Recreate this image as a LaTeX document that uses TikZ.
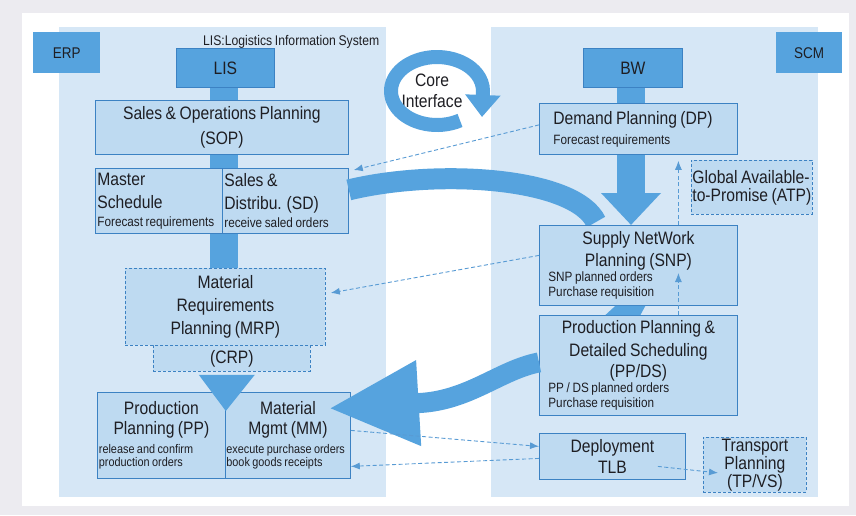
\documentclass[tikz,border=0pt]{standalone}
\usepackage{fontspec}
\setmainfont[FakeStretch=0.87, WordSpace=0.8]{Liberation Sans}
\usetikzlibrary{arrows.meta,calc}
\definecolor{framegray}{RGB}{236,235,240}
\definecolor{panelblue}{RGB}{214,231,246}
\definecolor{boxblue}{RGB}{190,218,241}
\definecolor{flowblue}{RGB}{86,163,222}
\definecolor{edgeblue}{RGB}{60,130,195}
\definecolor{linkblue}{RGB}{88,155,212}
\definecolor{inkgray}{RGB}{30,30,35}
\newcommand\bigtxt{\fontsize{18}{23}\selectfont}
\newcommand\smalltxt{\fontsize{13.5}{15}\selectfont}
\newcommand\pptxt{\fontsize{12.5}{12.5}\selectfont}

\begin{document}
\begin{tikzpicture}[x=1pt, y=-1pt, >=Stealth,
  box/.style={draw=edgeblue, fill=boxblue, line width=0.8pt, anchor=north west, inner sep=0pt, font=\bigtxt, text=inkgray},
  dbox/.style={box, dash pattern=on 3pt off 2pt},
  tag/.style={fill=flowblue, anchor=north west, inner sep=0pt, font=\fontsize{15.5}{18}\selectfont, text=inkgray},
  hdr/.style={tag, draw=edgeblue, line width=0.8pt, font=\bigtxt},
  side/.style={fill=panelblue, anchor=north west, inner sep=0pt},
  bar/.style={draw=flowblue, line width=28pt},
  link/.style={draw=linkblue, line width=0.9pt, dash pattern=on 4pt off 2.5pt, -{Latex[length=9pt,width=7pt]}}]
  \fill[framegray] (0,0) rectangle (856,515);
  \fill[white] (22,13) rectangle (849,506);
  \useasboundingbox (0,0) rectangle (856,515);
  \node[side, minimum width=327pt, minimum height=470pt] (erpside) at (59,27) {};
  \node[side, minimum width=327pt, minimum height=470pt] (scmside) at (491,27) {};
  \node[tag, minimum width=67pt, minimum height=41pt] (erp) at (33,32) {ERP};
  \node[tag, minimum width=66pt, minimum height=41pt] (scm) at (776,32) {SCM};
  \node[anchor=base west, inner sep=0pt, text=inkgray, font=\fontsize{14}{16}\selectfont] (lisnote) at (203,45) {LIS:Logistics Information System};
  \coordinate (lspine) at (224,0);
  \coordinate (rspine) at (631,0);
  % ERP side
  \node[hdr, minimum width=98pt, minimum height=39pt] (lis) at (176,48) {LIS};
  \node[box, minimum width=253pt, minimum height=54pt, align=center] (sop) at (95,100) {Sales \& Operations Planning\\[2pt](SOP)};
  \node[box, minimum width=127pt, minimum height=65pt, text width=123pt, inner xsep=2pt, align=flush left] (master) at (95,168) {Master\\Schedule\\[-5pt]{\smalltxt Forecast requirements}};
  \node[box, minimum width=126pt, minimum height=65pt, text width=122pt, inner xsep=2pt, align=flush left] (sd) at (222,168) {Sales \&\\Distribu. (SD)\\[-5pt]{\smalltxt receive saled orders}};
  \node[dbox, minimum width=200pt, minimum height=77pt, align=center] (mrp) at (125,268) {Material\\Requirements\\Planning (MRP)};
  \node[dbox, minimum width=157pt, minimum height=26pt] (crp) at (153,345) {(CRP)};
  \node[box, minimum width=128pt, minimum height=86pt, text width=125pt, inner xsep=1.5pt, align=flush left] (pp) at (97,392) {{\centering Production\\[-3pt]Planning (PP)\par}\vspace{5pt}{\pptxt release and confirm\\production orders\par}};
  \node[box, minimum width=125pt, minimum height=86pt, text width=123pt, inner xsep=1pt, align=flush left] (mm) at (225,392) {{\centering Material\\[-3pt]Mgmt (MM)\par}\vspace{5pt}{\pptxt execute purchase orders\\book goods receipts\par}};
  % SCM side
  \node[hdr, minimum width=99pt, minimum height=39pt] (bw) at (583,48) {BW};
  \node[box, minimum width=198pt, minimum height=51pt, text width=170pt, inner xsep=14pt, align=flush left] (dp) at (539,103) {Demand Planning (DP)\\[-3pt]{\smalltxt Forecast requirements}};
  \node[dbox, minimum width=121pt, minimum height=54pt, text width=119pt, inner xsep=1pt, align=flush left] (atp) at (691,160) {Global Available-\\[-5pt]to-Promise (ATP)};
  % curved flow into SNP, ends under the box
  \draw[flowblue, line width=21pt] ([yshift=11pt]sd.east) .. controls (440,168) and (575,178) .. (596,222);
  \node[box, minimum width=198pt, minimum height=80pt, text width=180pt, inner xsep=9pt, align=flush left] (snp) at (539,225) {{\centering Supply NetWork\\[-1pt]Planning (SNP)\par}{\smalltxt SNP planned orders\\Purchase requisition\par}};
  \node[box, minimum width=198pt, minimum height=100pt, text width=180pt, inner xsep=9pt, align=flush left] (ppds) at (539,315) {{\centering Production Planning \&\\Detailed Scheduling\\[-2pt](PP/DS)\par}{\smalltxt PP / DS planned orders\\Purchase requisition\par}};
  \node[box, minimum width=146pt, minimum height=46pt, align=center] (dep) at (539,433) {Deployment\\[-2pt]TLB};
  \node[dbox, minimum width=103pt, minimum height=55pt, align=center] (tpvs) at (703,437) {Transport\\[-5pt]Planning\\[-5pt](TP/VS)};
  % core interface
  \node[align=center, inner sep=0pt, font=\bigtxt, text=inkgray] (core) at (432,91) {Core\\[-2pt]Interface};
  \draw[flowblue, line width=14pt, -{Triangle[width=34pt,length=22pt]}] ([shift={(-60:46pt and 34pt)}, xshift=5pt]core.center) arc[start angle=-60, end angle=-360, x radius=46pt, y radius=34pt] -- ++(-1pt,-26pt);
  % flows
  \draw[bar] (lspine |- lis.south) -- (lspine |- sop.north);
  \draw[bar] (lspine |- sop.south) -- (lspine |- sd.north);
  \draw[bar] (lspine |- sd.south) -- (lspine |- mrp.north);
  \draw[bar] (rspine |- bw.south) -- (rspine |- dp.north);
  \draw[bar, -{Triangle[width=58pt,length=32pt]}] (rspine |- dp.south) -- (rspine |- snp.north);
  \fill[flowblue] ([xshift=-23pt]snp.south) -- ([xshift=7pt]snp.south) -- ([xshift=2pt]ppds.north) -- ([xshift=-33pt]ppds.north) -- cycle;
  \fill[flowblue] ($(pp.north east |- crp.south)+(-27pt,-3pt)$) -- ++(56pt,0) -- ($(pp.north east)+(0,-19pt)$) -- cycle;
  \draw[flowblue, line width=20pt, -{Triangle[width=80pt,length=90pt]}] ([yshift=3pt]ppds.west) .. controls (500,370) and (470,400) .. (420,403) -- ([shift={(-22pt,27pt)}]mm.east);
  % links
  \draw[link] ([yshift=4pt]dp.west) -- ([shift={(5pt,-2pt)}]sd.north east);
  \draw[link] ([yshift=10pt]snp.west) -- ([shift={(5pt,14pt)}]mrp.east);
  \draw[link] ([xshift=40pt]snp.north) -- ([xshift=40pt,yshift=-6pt]dp.south);
  \draw[link] ([xshift=40pt]ppds.north) -- ([xshift=40pt,yshift=-48pt]snp.north);
  \draw[link] ([yshift=5pt]mm.east) -- ([yshift=10pt]dep.west);
  \draw[link] ([yshift=-2pt]dep.west) -- ([yshift=-31pt]mm.east);
  \draw[link] ([shift={(-28pt,-10pt)}]dep.east) -- ([shift={(15pt,-8pt)}]tpvs.west);
\end{tikzpicture}
\end{document}
